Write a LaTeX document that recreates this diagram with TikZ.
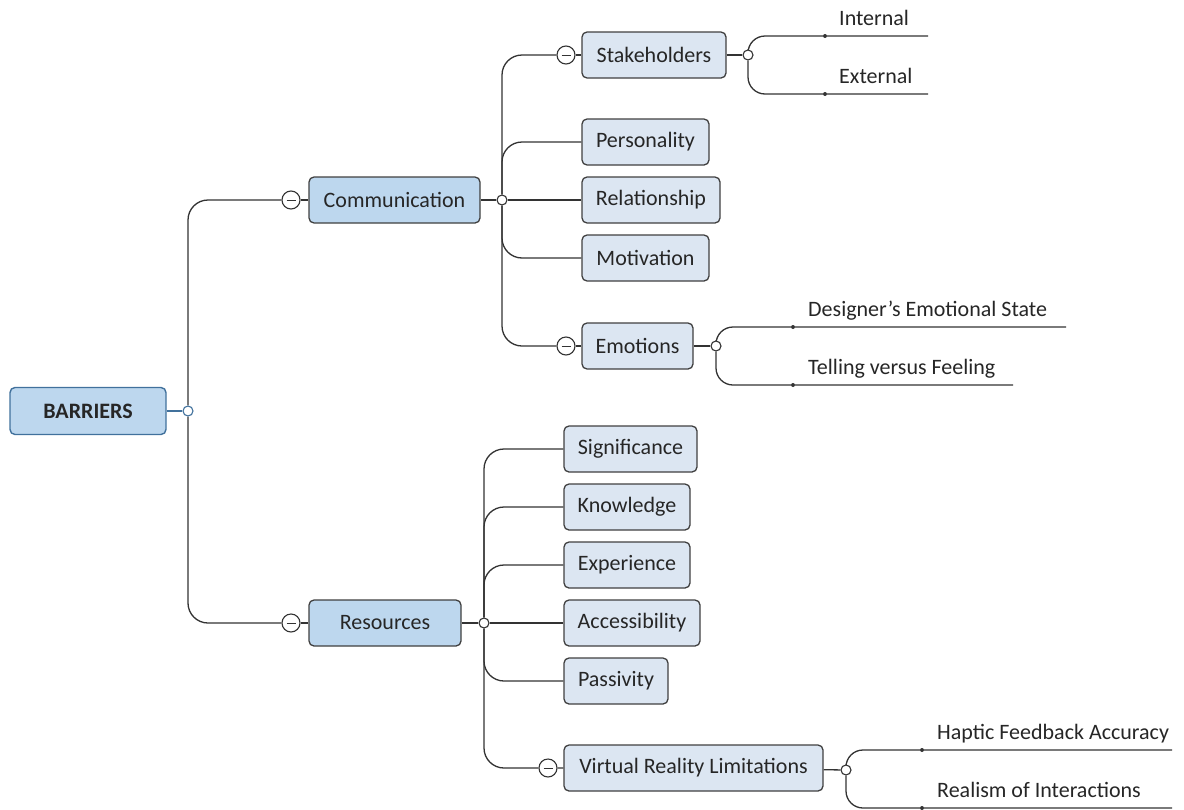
\documentclass[tikz,border=0pt]{standalone}
\usepackage{fontspec}
\setmainfont{Carlito}
\usetikzlibrary{backgrounds}
\definecolor{rootfill}{HTML}{BDD7EE}
\definecolor{rootedge}{HTML}{41719C}
\definecolor{subfill}{HTML}{DCE6F2}
\definecolor{boxedge}{HTML}{404040}
\definecolor{wire}{HTML}{333333}
\definecolor{ink}{HTML}{262626}
\begin{document}
\begin{tikzpicture}[x=1pt,y=-1pt,
  every node/.style={font=\fontsize{22}{26}\selectfont, text=ink},
  rootbox/.style={draw=rootedge, fill=rootfill, line width=1.4pt, rounded corners=5pt,
    minimum height=47pt, font=\fontsize{22}{26}\selectfont\bfseries, inner sep=0pt},
  midbox/.style={draw=boxedge, fill=rootfill, line width=1.3pt, rounded corners=5pt,
    minimum height=46pt, inner sep=0pt},
  subbox/.style={draw=boxedge, fill=subfill, line width=1.3pt, rounded corners=5pt,
    minimum height=46pt, inner sep=0pt},
  junction/.style={circle, draw=wire, fill=white, line width=1.1pt, minimum size=10pt, inner sep=0pt},
  collapse/.style={circle, draw=wire, fill=white, line width=1.1pt, minimum size=18pt, inner sep=0pt,
    path picture={\draw[wire, line width=0.9pt]
      ([xshift=-4.5pt]path picture bounding box.center) -- ([xshift=4.5pt]path picture bounding box.center);}},
  tip/.style={circle, fill=wire, minimum size=4pt, inner sep=0pt},
  leaftext/.style={anchor=base west, inner sep=0pt},
  wirestyle/.style={draw=wire, line width=1.3pt},
  branch/.style={wirestyle, rounded corners=20pt},
  twig/.style={wirestyle, rounded corners=17pt}]
\useasboundingbox (0,0) rectangle (1184,809);

% root
\node[rootbox, minimum width=156pt] (barriers) at (88,411) {BARRIERS};
\node[junction, draw=rootedge] (jB) at (188,411) {};

% Communication branch
\node[collapse] (cCom) at (291,200) {};
\node[midbox, minimum width=171pt] (com) at (394.5,200) {Communication};
\node[junction] (jC) at (502,200) {};

\node[collapse] (cSta) at (566,55) {};
\node[subbox, minimum width=144pt] (sta) at (654,55) {Stakeholders};
\node[junction] (jS) at (748,55) {};
\node[tip] (dInt) at (825,36) {};
\coordinate (eInt) at (928,36);
\node[leaftext] (tInt) at (839,25) {Internal};
\node[tip] (dExt) at (825,94) {};
\coordinate (eExt) at (928,94);
\node[leaftext] (tExt) at (839,83) {External};

\node[subbox, minimum width=127pt] (per) at (645.5,142) {Personality};
\node[subbox, minimum width=138pt] (rel) at (651,200) {Relationship};
\node[subbox, minimum width=127pt] (mot) at (645.5,258) {Motivation};

\node[collapse] (cEmo) at (566,346) {};
\node[subbox, minimum width=111pt] (emo) at (637.5,346) {Emotions};
\node[junction] (jE) at (716,346) {};
\node[tip] (dDes) at (793,327) {};
\coordinate (eDes) at (1066,327);
\node[leaftext] (tDes) at (808,316) {Designer’s Emotional State};
\node[tip] (dTel) at (793,385) {};
\coordinate (eTel) at (1013,385);
\node[leaftext] (tTel) at (808,374) {Telling versus Feeling};

% Resources branch
\node[collapse] (cRes) at (291,623) {};
\node[midbox, minimum width=152pt] (res) at (385,623) {Resources};
\node[junction] (jR) at (484,623) {};

\node[subbox, minimum width=133pt] (sig) at (630.5,449) {Significance};
\node[subbox, minimum width=126pt] (kno) at (627,507) {Knowledge};
\node[subbox, minimum width=126pt] (exp) at (627,565) {Experience};
\node[subbox, minimum width=136pt] (acc) at (632,623) {Accessibility};
\node[subbox, minimum width=104pt] (pas) at (616,681) {Passivity};

\node[collapse] (cVR) at (548,768) {};
\node[subbox, minimum width=259pt] (vr) at (693.5,768) {Virtual Reality Limitations};
\node[junction] (jV) at (846,770) {};
\node[tip] (dHap) at (922,750) {};
\coordinate (eHap) at (1172,750);
\node[leaftext] (tHap) at (937,739) {Haptic Feedback Accuracy};
\node[tip] (dRea) at (922,808) {};
\coordinate (eRea) at (1172,808);
\node[leaftext] (tRea) at (937,797) {Realism of Interactions};

\begin{scope}[on background layer]
  \draw[wirestyle, draw=rootedge] (barriers.east) -- (jB);
  \draw[branch] (jB) |- (cCom);
  \draw[branch] (jB) |- (cRes);

  \draw[wirestyle] (cCom) -- (com) (com) -- (jC);
  \draw[branch] (jC) |- (cSta);
  \draw[wirestyle] (cSta) -- (sta) (sta) -- (jS);
  \draw[twig] (jS) |- (dInt) -- (eInt);
  \draw[twig] (jS) |- (dExt) -- (eExt);
  \draw[branch] (jC) |- (per.west);
  \draw[wirestyle] (jC) -- (rel.west);
  \draw[branch] (jC) |- (mot.west);
  \draw[branch] (jC) |- (cEmo);
  \draw[wirestyle] (cEmo) -- (emo) (emo) -- (jE);
  \draw[twig] (jE) |- (dDes) -- (eDes);
  \draw[twig] (jE) |- (dTel) -- (eTel);

  \draw[wirestyle] (cRes) -- (res) (res) -- (jR);
  \draw[branch] (jR) |- (sig.west);
  \draw[branch] (jR) |- (kno.west);
  \draw[branch] (jR) |- (exp.west);
  \draw[wirestyle] (jR) -- (acc.west);
  \draw[branch] (jR) |- (pas.west);
  \draw[branch] (jR) |- (cVR);
  \draw[wirestyle] (cVR) -- (vr) (vr) -- (jV);
  \draw[twig] (jV) |- (dHap) -- (eHap);
  \draw[twig] (jV) |- (dRea) -- (eRea);
\end{scope}
\end{tikzpicture}
\end{document}
